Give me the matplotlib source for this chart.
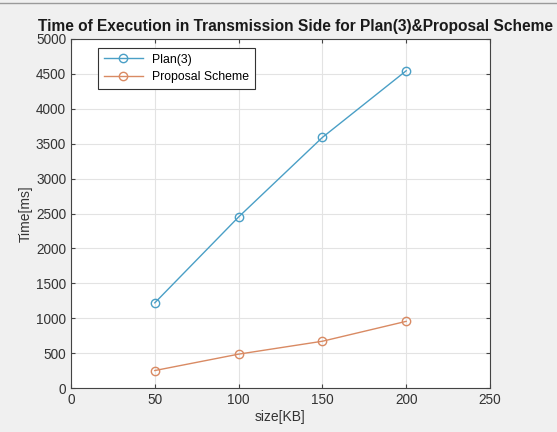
import matplotlib
matplotlib.use("Agg")
import matplotlib.pyplot as plt
from matplotlib.lines import Line2D

sizes = [50, 100, 150, 200]
plan3 = [1220, 2450, 3590, 4545]
proposal = [250, 485, 670, 955]
xticks = [0, 50, 100, 150, 200, 250]
yticks = list(range(0, 5001, 500))

plt.rcParams['font.family'] = ['Liberation Sans', 'DejaVu Sans']

fig = plt.figure(figsize=(5.57, 4.32), dpi=100, facecolor='#f0f0f0')
ax = fig.add_axes([71/557, 44/432, 419/557, 349/432])
ax.set_facecolor('white')

blue = '#4a9fc6'
orange = '#d98a63'
ax.plot(sizes, plan3, '-o', color=blue, lw=1.0, ms=6, mfc='none', mew=1.0, label='Plan(3)')
ax.plot(sizes, proposal, '-o', color=orange, lw=1.0, ms=6, mfc='none', mew=1.0, label='Proposal Scheme')

ax.set_xlim(0, 250)
ax.set_ylim(0, 5000)
ax.set_xticks(xticks)
ax.set_yticks(yticks)
ax.grid(True, color='#e3e3e3', lw=0.8)
ax.set_axisbelow(True)
ax.tick_params(direction='in', length=3, color='#444444', labelsize=9.8, labelcolor='#333333', top=True, right=True, labeltop=False, labelright=False)
for s in ax.spines.values():
    s.set_color('#444444')
    s.set_linewidth(0.8)

ax.set_xlabel('size[KB]', fontsize=10, color='#333333', labelpad=2)
ax.set_ylabel('Time[ms]', fontsize=10, color='#333333', labelpad=2)

fig.text(296/557, 1 - 27/432, 'Time of Execution in Transmission Side for Plan(3)&Proposal Scheme',
         ha='center', va='center', fontsize=11.2, fontweight='bold', color='#1a1a1a')

leg = ax.legend(loc='upper left', bbox_to_anchor=(27/419, 1 - 9/349), fontsize=8.8, frameon=True,
                fancybox=False, edgecolor='#333333', framealpha=1, borderpad=0.45, handlelength=3.2,
                labelspacing=0.45, borderaxespad=0)
leg.get_frame().set_linewidth(0.8)

fig.add_artist(Line2D([0, 1], [1 - 3/432, 1 - 3/432], color='#9a9a9a', lw=1.0, transform=fig.transFigure))

fig.savefig('out.png', dpi=100, facecolor=fig.get_facecolor())
